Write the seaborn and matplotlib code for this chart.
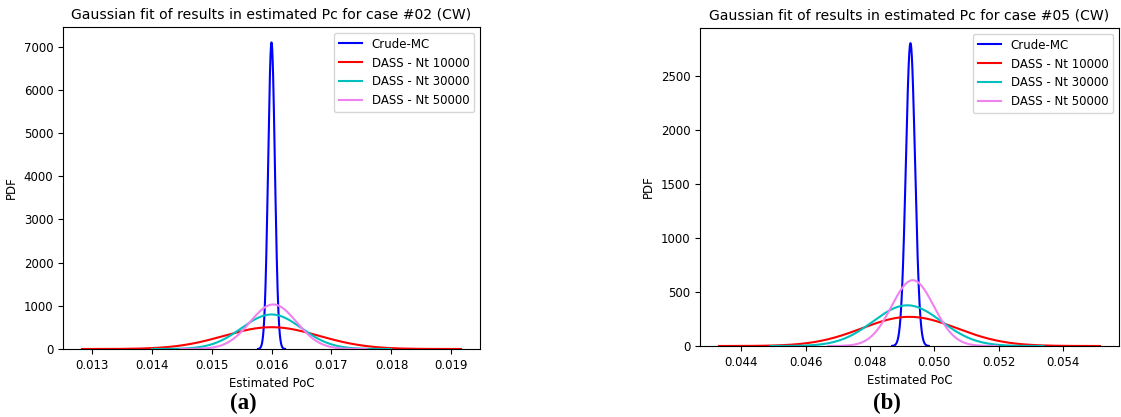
import numpy as np
import pandas as pd
import matplotlib
matplotlib.use("Agg")
import matplotlib.pyplot as plt
import seaborn as sns

series = ["Crude-MC", "DASS - Nt 10000", "DASS - Nt 30000", "DASS - Nt 50000"]
colors = ["blue", "red", "c", "violet"]

# Gaussian fit parameters (mean, std)
mu_a = [0.01600, 0.01600, 0.01600, 0.01603]
sd_a = [0.0000562, 0.000790, 0.000499, 0.000387]
mu_b = [0.04926, 0.04923, 0.04916, 0.04933]
sd_b = [0.0001425, 0.00148, 0.00106, 0.000656]

titles = ["Gaussian fit of results in estimated Pc for case #02 (CW)",
          "Gaussian fit of results in estimated Pc for case #05 (CW)"]
panel_labels = ["(a)", "(b)"]
xticks_a = [0.013, 0.014, 0.015, 0.016, 0.017, 0.018, 0.019]
xticks_b = [0.044, 0.046, 0.048, 0.050, 0.052, 0.054]
yticks_a = [0, 1000, 2000, 3000, 4000, 5000, 6000, 7000]
yticks_b = [0, 500, 1000, 1500, 2000, 2500]


def build(mus, sds):
    frames = []
    for name, m, s in zip(series, mus, sds):
        x = np.linspace(m - 4 * s, m + 4 * s, 400)
        y = np.exp(-0.5 * ((x - m) / s) ** 2) / (s * np.sqrt(2 * np.pi))
        frames.append(pd.DataFrame({"x": x, "pdf": y, "series": name}))
    return pd.concat(frames, ignore_index=True)


fig = plt.figure(figsize=(11.21, 4.17), dpi=100)
ax_a = fig.add_axes([63 / 1121, 1 - 349 / 417, (480 - 63) / 1121, (349 - 27) / 417])
ax_b = fig.add_axes([700 / 1121, 1 - 346 / 417, (1119 - 700) / 1121, (346 - 28) / 417])

for ax, mus, sds, title, xt, yt in [
    (ax_a, mu_a, sd_a, titles[0], xticks_a, yticks_a),
    (ax_b, mu_b, sd_b, titles[1], xticks_b, yticks_b),
]:
    df = build(mus, sds)
    sns.lineplot(data=df, x="x", y="pdf", hue="series", palette=colors,
                 hue_order=series, ax=ax, linewidth=1.5, sort=False,
                 estimator=None)
    ax.set_ylim(bottom=0)
    ax.set_xticks(xt)
    ax.set_xticklabels([f"{v:.3f}" for v in xt])
    ax.set_yticks(yt)
    ax.tick_params(labelsize=8.5)
    ax.set_xlabel("Estimated PoC", fontsize=8.5)
    ax.set_ylabel("PDF", fontsize=8.5)
    ax.set_title(title, fontsize=10.1)
    leg = ax.legend(loc="upper right", fontsize=8.5)

ax_a.set_ylim(0, 7100 * 1.05)
ax_b.set_ylim(0, 2800 * 1.05)

fig.text(243 / 1121, 1 - 403 / 417, panel_labels[0], ha="center", va="center",
         fontsize=16.5, fontweight="bold", family="Liberation Serif")
fig.text(887 / 1121, 1 - 403 / 417, panel_labels[1], ha="center", va="center",
         fontsize=16.5, fontweight="bold", family="Liberation Serif")

fig.savefig("out.png", dpi=100)
